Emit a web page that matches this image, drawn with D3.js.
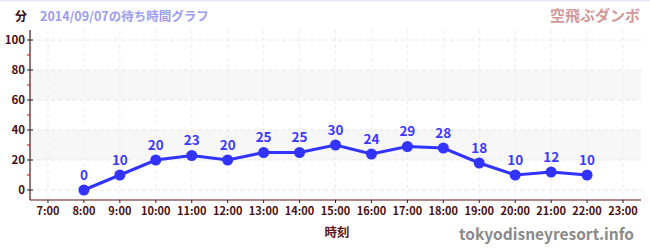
<!DOCTYPE html>
<html lang="ja">
<head>
<meta charset="utf-8">
<style>
  body, html { margin: 0; background: #fff; overflow: hidden; }
  svg { display: block; font-family: "Noto Sans CJK JP", "Noto Sans", sans-serif; }
</style>
<script src="https://d3js.org/d3.v7.min.js"></script>
</head>
<body>
<svg width="650" height="250"></svg>
<script>
const hours = [8, 9, 10, 11, 12, 13, 14, 15, 16, 17, 18, 19, 20, 21, 22];
const waits = [0, 10, 20, 23, 20, 25, 25, 30, 24, 29, 28, 18, 10, 12, 10];
const hourTicks = d3.range(7, 24);
const yTicks = [0, 20, 40, 60, 80, 100];
const minorTicks = [10, 30, 50, 70, 90];
const bands = [[20, 40], [60, 80]];

const svg = d3.select("svg");
const plotL = 30, plotR = 641, plotT = 30, plotB = 200;

const x = d3.scaleLinear().domain([6.5, 23.5]).range([plotL, plotR]);
const y = d3.scaleLinear().domain([-6.67, 106.67]).range([plotB, plotT]);

const axisColor = "#5c1414";

// top border
svg.append("line").attr("x1", 0).attr("x2", 650).attr("y1", 0.5).attr("y2", 0.5)
    .attr("stroke", "#e4e4f8").attr("stroke-width", 1.5);

// bands
svg.selectAll(".band").data(bands).join("rect")
    .attr("x", plotL).attr("width", plotR - plotL)
    .attr("y", d => y(d[1])).attr("height", d => y(d[0]) - y(d[1]))
    .attr("fill", "#f7f7f7");

// grid
svg.selectAll(".hgrid").data(yTicks).join("line")
    .attr("x1", plotL).attr("x2", plotR)
    .attr("y1", d => y(d)).attr("y2", d => y(d))
    .attr("stroke", "#e6e6e6").attr("stroke-dasharray", "4,3");
svg.selectAll(".vgrid").data(hourTicks).join("line")
    .attr("x1", d => x(d)).attr("x2", d => x(d))
    .attr("y1", plotT).attr("y2", plotB)
    .attr("stroke", "#ececec").attr("stroke-dasharray", "4,3");

// axes
svg.append("line").attr("x1", plotL).attr("x2", plotL).attr("y1", plotT).attr("y2", plotB)
    .attr("stroke", axisColor).attr("stroke-width", 1.2);
svg.append("line").attr("x1", plotL).attr("x2", plotR).attr("y1", plotB).attr("y2", plotB)
    .attr("stroke", axisColor).attr("stroke-width", 1.2);

svg.selectAll(".ytick").data(yTicks).join("line")
    .attr("x1", plotL - 3).attr("x2", plotL + 3)
    .attr("y1", d => y(d)).attr("y2", d => y(d))
    .attr("stroke", "#222");
svg.selectAll(".ymin").data(minorTicks).join("line")
    .attr("x1", plotL - 3).attr("x2", plotL)
    .attr("y1", d => y(d)).attr("y2", d => y(d))
    .attr("stroke", "#e00");
svg.selectAll(".ylab").data(yTicks).join("text")
    .attr("x", plotL - 5).attr("y", d => y(d) + 4)
    .attr("text-anchor", "end").attr("font-size", 11.5).attr("font-weight", "bold")
    .attr("fill", "#4a1010").text(d => d);

svg.selectAll(".xtick").data(hourTicks).join("line")
    .attr("x1", d => x(d)).attr("x2", d => x(d))
    .attr("y1", plotB).attr("y2", plotB + 3)
    .attr("stroke", "#222");
svg.selectAll(".xlab").data(hourTicks).join("text")
    .attr("x", d => x(d)).attr("y", plotB + 15)
    .attr("text-anchor", "middle").attr("font-size", 11).attr("font-weight", "bold")
    .attr("fill", "#4a1010").text(d => d + ":00");

// line + points
const pts = hours.map((h, i) => [h, waits[i]]);
svg.append("path").datum(pts)
    .attr("d", d3.line().x(d => x(d[0])).y(d => y(d[1])))
    .attr("fill", "none").attr("stroke", "#3333ff").attr("stroke-width", 3);
svg.selectAll(".pt").data(pts).join("circle")
    .attr("cx", d => x(d[0])).attr("cy", d => y(d[1])).attr("r", 5.5)
    .attr("fill", "#3333ff");
svg.selectAll(".val").data(pts).join("text")
    .attr("x", d => x(d[0])).attr("y", d => y(d[1]) - 10)
    .attr("text-anchor", "middle").attr("font-size", 13.5).attr("font-weight", "bold")
    .attr("fill", "#3a3aff").text(d => d[1]);

// titles
svg.append("text").attr("x", 15).attr("y", 21).attr("font-size", 12).attr("font-weight", "bold")
    .attr("fill", "#3a0a0a").text("分");
svg.append("text").attr("x", 40).attr("y", 21).attr("font-size", 12.5).attr("font-weight", "bold")
    .attr("fill", "#9c9cf0").text("2014/09/07の待ち時間グラフ");
svg.append("text").attr("x", 640).attr("y", 21).attr("text-anchor", "end")
    .attr("font-size", 15).attr("font-weight", "bold")
    .attr("fill", "#d09898").text("空飛ぶダンボ");
svg.append("text").attr("x", 337).attr("y", 237).attr("text-anchor", "middle")
    .attr("font-size", 12.5).attr("font-weight", "bold")
    .attr("fill", "#5c1414").text("時刻");
svg.append("text").attr("x", 634).attr("y", 240).attr("text-anchor", "end")
    .attr("font-size", 15.5).attr("font-weight", "bold")
    .attr("fill", "#8a8a8a").text("tokyodisneyresort.info");
</script>
</body>
</html>
